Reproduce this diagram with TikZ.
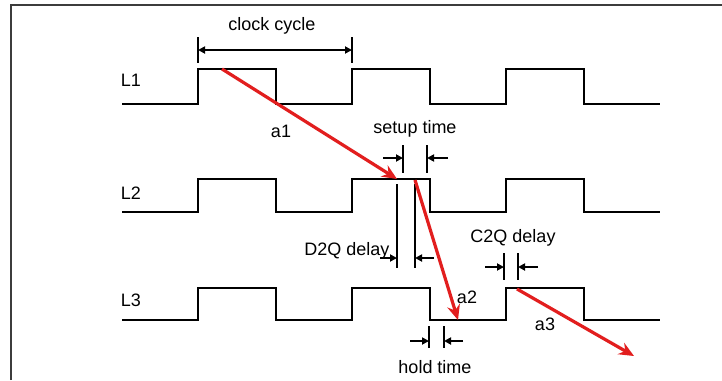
\documentclass[tikz,border=0pt]{standalone}
\usepackage{fontspec}
\setmainfont{Liberation Sans}
\usetikzlibrary{arrows.meta}
\definecolor{arrowred}{RGB}{226,30,30}
\definecolor{framegray}{RGB}{60,60,60}
\begin{document}
\begin{tikzpicture}[x=1pt,y=-1pt,
  wave/.style={line width=2.6pt, line join=miter},
  tick/.style={line width=2pt},
  dimarrow/.style={line width=2pt, -{Triangle[length=7pt,width=7pt]}},
  redarrow/.style={draw=arrowred, line width=3.2pt, -{Stealth[length=15pt,width=13pt,inset=5pt]}},
  lbl/.style={font=\fontsize{18}{20}\selectfont, inner sep=0pt}]
\useasboundingbox (0,0) rectangle (722,380);
\fill[white] (0,0) rectangle (722,380);
\draw[line width=2pt, framegray] (11,380) -- (11,5) -- (722,5);

% waveforms
\foreach \lo/\hi in {104/69, 212/179, 320/288}{
  \draw[wave] (122,\lo) -- (198,\lo) -- (198,\hi) -- (276,\hi) -- (276,\lo) -- (352,\lo) -- (352,\hi) -- (430,\hi) -- (430,\lo) -- (506,\lo) -- (506,\hi) -- (584,\hi) -- (584,\lo) -- (660,\lo);
}

% labels
\node[lbl] (l1) at (131,80) {L1};
\node[lbl] (l2) at (131,193) {L2};
\node[lbl] (l3) at (131,300) {L3};

% clock cycle
\node[lbl] (cc) at (272,26) {clock cycle};
\coordinate (cca) at (198,50);
\coordinate (ccb) at (352,50);
\draw[tick] (198,37) -- (198,63);
\draw[tick] (352,37) -- (352,63);
\draw[line width=2pt, {Triangle[length=7pt,width=7pt]}-{Triangle[length=7pt,width=7pt]}] (cca) -- (ccb);

% setup time
\node[lbl] (st) at (415,129) {setup time};
\draw[tick] (403,145) -- (403,173);
\draw[tick] (427,145) -- (427,173);
\coordinate (st1s) at (383,158); \coordinate (st1e) at (403,158);
\coordinate (st2s) at (448,158); \coordinate (st2e) at (427,158);
\draw[dimarrow] (st1s) -- (st1e);
\draw[dimarrow] (st2s) -- (st2e);

% D2Q delay
\node[lbl] (dq) at (347,251) {D2Q delay};
\draw[tick] (397,184) -- (397,268);
\draw[tick] (415,184) -- (415,268);
\coordinate (dq1s) at (380,258); \coordinate (dq1e) at (397,258);
\coordinate (dq2s) at (434,258); \coordinate (dq2e) at (415,258);
\draw[dimarrow] (dq1s) -- (dq1e);
\draw[dimarrow] (dq2s) -- (dq2e);

% C2Q delay
\node[lbl] (cq) at (513,238) {C2Q delay};
\draw[tick] (504,253) -- (504,280);
\draw[tick] (518,253) -- (518,280);
\coordinate (cq1s) at (485,267); \coordinate (cq1e) at (504,267);
\coordinate (cq2s) at (538,267); \coordinate (cq2e) at (518,267);
\draw[dimarrow] (cq1s) -- (cq1e);
\draw[dimarrow] (cq2s) -- (cq2e);

% hold time
\node[lbl] (ht) at (435,367) {hold time};
\draw[tick] (429,326) -- (429,348);
\draw[tick] (444,326) -- (444,348);
\coordinate (ht1s) at (410,341); \coordinate (ht1e) at (429,341);
\coordinate (ht2s) at (463,341); \coordinate (ht2e) at (444,341);
\draw[dimarrow] (ht1s) -- (ht1e);
\draw[dimarrow] (ht2s) -- (ht2e);

% red arrows
\coordinate (a1s) at (222,69); \coordinate (a1e) at (397,179);
\coordinate (a2s) at (415,180); \coordinate (a2e) at (458,320);
\coordinate (a3s) at (517,289); \coordinate (a3e) at (634,356);
\draw[redarrow] (a1s) -- (a1e);
\draw[redarrow] (a2s) -- (a2e);
\draw[redarrow] (a3s) -- (a3e);
\node[lbl] (a1) at (281,131) {a1};
\node[lbl] (a2) at (467,297) {a2};
\node[lbl] (a3) at (545,324) {a3};
\end{tikzpicture}
\end{document}
